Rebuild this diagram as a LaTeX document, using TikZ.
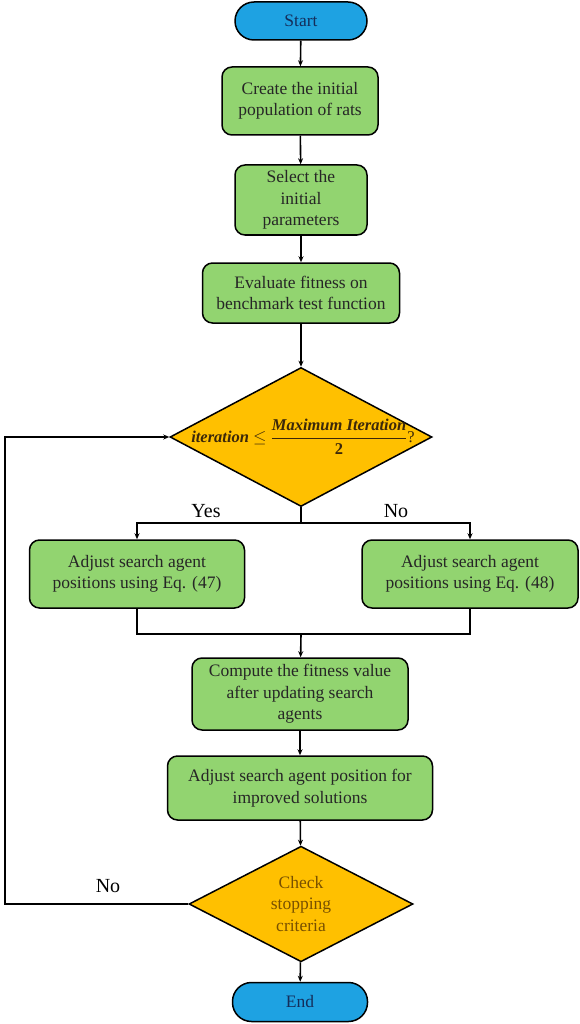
\documentclass[tikz,border=0pt]{standalone}
\usepackage{fontspec}
\setmainfont{Liberation Serif}
\usetikzlibrary{shapes.geometric,arrows.meta}
\definecolor{gbox}{RGB}{146,212,112}
\definecolor{gold}{RGB}{255,192,0}
\definecolor{bluef}{RGB}{30,162,226}
\definecolor{bluet}{RGB}{20,45,90}
\definecolor{brownt}{RGB}{120,80,0}
\definecolor{darkt}{RGB}{60,40,10}
\newcommand{\condnum}{\bfseries\itshape Maximum Iteration}
\newcommand{\condtext}{\textbf{\textit{iteration}}\ \ensuremath{\leq}\ \ensuremath{\dfrac{\mbox{\condnum}}{\mbox{\bfseries 2}}}?}
\newcommand{\dfrac}[2]{\displaystyle\frac{#1}{#2}}
\begin{document}
\begin{tikzpicture}[x=1pt,y=-1pt,
  every node/.style={font=\fontsize{17.5}{21.5}\selectfont},
  proc/.style={draw=black,line width=1.5pt,fill=gbox,rounded corners=10pt,align=center,inner sep=0pt,text=black!85},
  term/.style={draw=black,line width=1.5pt,fill=bluef,rounded corners=19pt,minimum width=132pt,minimum height=38pt,inner sep=0pt,text=bluet},
  dec/.style={draw=black,line width=1.5pt,fill=gold,diamond,inner sep=0pt,align=center},
  arr/.style={line width=1.6pt,-{Stealth[length=6pt,width=5pt]}},
  ln/.style={line width=1.6pt},
  lab/.style={font=\fontsize{20}{24}\selectfont}]
\useasboundingbox (0,0) rectangle (580,1024);
\node[term] (start) at (301,21) {Start};
\node[proc,minimum width=156pt,minimum height=68pt] (b1) at (300,101) {Create the initial\\population of rats};
\node[proc,minimum width=132pt,minimum height=70pt] (b2) at (301,200) {Select the\\initial\\parameters};
\node[proc,minimum width=197pt,minimum height=60pt] (b3) at (301,293) {Evaluate fitness on\\benchmark test function};
\node[dec,minimum width=262pt,minimum height=139pt] (d1) at (301,437) {};
\node[text=darkt,font=\fontsize{16.5}{19}\selectfont] (cond) at (303,437) {\condtext};
\node[proc,minimum width=215pt,minimum height=68pt] (L) at (137,574) {Adjust search agent\\positions using Eq. (47)};
\node[proc,minimum width=216pt,minimum height=68pt] (R) at (470,574) {Adjust search agent\\positions using Eq. (48)};
\node[proc,minimum width=216pt,minimum height=72pt] (b4) at (300,694) {Compute the fitness value\\after updating search\\agents};
\node[proc,minimum width=265pt,minimum height=64pt] (b5) at (300,788) {Adjust search agent position for\\improved solutions};
\node[dec,minimum width=224pt,minimum height=102pt,text=brownt] (d2) at (301,904) {Check\\stopping\\criteria};
\node[term,minimum width=135pt,minimum height=39pt] (end) at (300,1002) {End};
\coordinate (split) at (301,523);
\coordinate (merge) at (301,634);
\coordinate (fb) at (5,904);
\draw[arr] (start) -- (b1);
\draw[arr] (b1) -- (b2);
\draw[arr] (b2) -- (b3);
\draw[arr] (b3) -- (d1);
\draw[ln] (d1.south) -- (split);
\draw[arr] (split) -| (L.north);
\draw[arr] (split) -| (R.north);
\draw[ln] (L.south) |- (merge);
\draw[ln] (R.south) |- (merge);
\draw[arr] (merge) -- (b4);
\draw[arr] (b4) -- (b5);
\draw[arr] (b5) -- (d2);
\draw[arr] (d2) -- (end);
\draw[arr] (d2.west) -- (fb) |- (d1.west);
\node[lab] (yes) at (206,511) {Yes};
\node[lab] (no1) at (396,511) {No};
\node[lab] (no2) at (108,886) {No};
\end{tikzpicture}
\end{document}
